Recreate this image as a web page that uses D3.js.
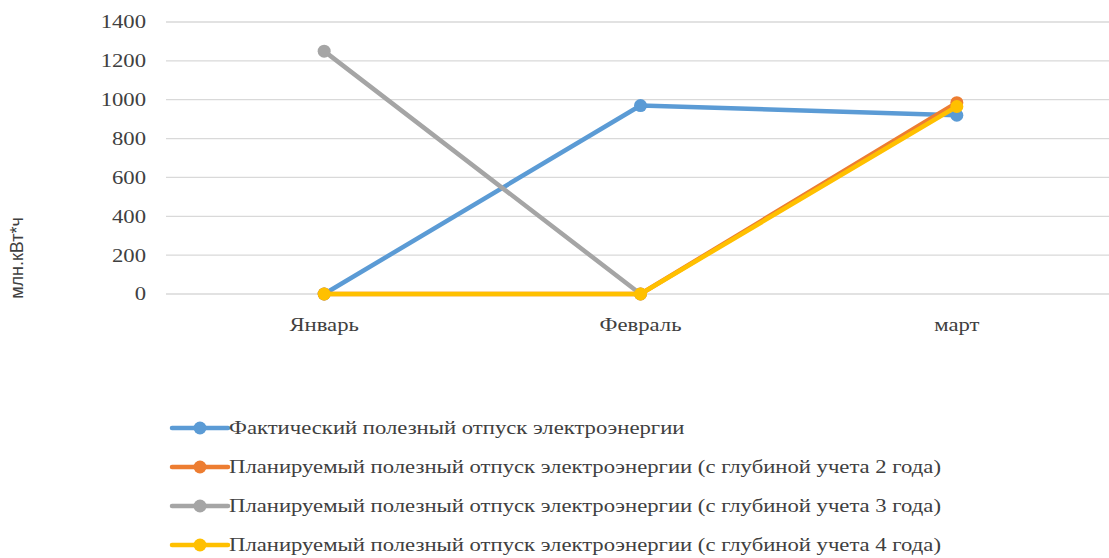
<!DOCTYPE html>
<html>
<head>
<meta charset="utf-8">
<script src="https://cdn.jsdelivr.net/npm/d3@7/dist/d3.min.js"></script>
</head>
<body style="margin:0">
<svg id="chart" width="1109" height="558" style="font-family:'Liberation Serif'"></svg>
<script>
// Monthly categories and y-axis ticks
const months = ["Январь", "Февраль", "март"];
const yTicks = [0, 200, 400, 600, 800, 1000, 1200, 1400];

// Series values, млн.кВт*ч
const actual = [0, 970, 920];
const plan2 = [0, 0, 985];
const plan3 = [1250, 0, null];
const plan4 = [0, 0, 965];

const seriesNames = [
  "Фактический полезный отпуск электроэнергии",
  "Планируемый полезный отпуск электроэнергии (с глубиной учета 2 года)",
  "Планируемый полезный отпуск электроэнергии (с глубиной учета 3 года)",
  "Планируемый полезный отпуск электроэнергии (с глубиной учета 4 года)"
];
const seriesColors = ["#5B9BD5", "#ED7D31", "#A5A5A5", "#FFC000"];

const series = [actual, plan2, plan3, plan4].map((vals, i) => ({
  name: seriesNames[i],
  color: seriesColors[i],
  points: months.map((m, j) => ({ month: m, value: vals[j] })).filter(p => p.value !== null)
}));

const svg = d3.select("#chart");
const W = 1109;
const stretch = 1.26; // wide text proportions used throughout

// Serif text, widened with textLength
function serifText(sel) {
  sel.attr("font-family", "Liberation Serif")
    .style("font-family", '"Liberation Serif"')
    .style("font-size", "18px")
    .attr("fill", "#404040");
  sel.each(function () {
    const w = this.getComputedTextLength();
    d3.select(this).attr("textLength", w * stretch).attr("lengthAdjust", "spacingAndGlyphs");
  });
}

const x = d3.scaleBand().domain(months).range([166, 1115]);
const y = d3.scaleLinear().domain([0, 1400]).range([294, 22]);
const cx = m => x(m) + x.bandwidth() / 2;

// Horizontal gridlines
svg.append("g")
  .selectAll("line")
  .data(yTicks)
  .join("line")
  .attr("x1", 166).attr("x2", W)
  .attr("y1", d => y(d)).attr("y2", d => y(d))
  .attr("stroke", "#d9d9d9").attr("stroke-width", 1.3);

// Y axis tick labels
const yAxis = d3.axisLeft(y).tickValues(yTicks).tickSize(0).tickPadding(0).tickFormat(d3.format("d"));
const gy = svg.append("g").attr("transform", "translate(146,0)").call(yAxis)
  .attr("font-family", null).attr("font-size", null);
gy.select(".domain").remove();
gy.selectAll("text")
  .attr("x", 0).attr("dy", "0.33em")
  .call(serifText);

// X axis category labels
const xAxis = d3.axisBottom(x).tickSize(0).tickPadding(0);
const gx = svg.append("g").attr("transform", "translate(0,331)").call(xAxis)
  .attr("font-family", null).attr("font-size", null);
gx.select(".domain").remove();
gx.selectAll("text")
  .attr("y", 0).attr("dy", 0)
  .call(serifText);

// Y axis title
svg.append("text")
  .attr("font-family", "Liberation Sans")
  .style("font-family", '"Liberation Sans"')
  .style("font-size", "18px")
  .attr("fill", "#404040")
  .attr("transform", "translate(23,258) rotate(-90)")
  .attr("text-anchor", "middle")
  .text("млн.кВт*ч");

// Lines and markers
const line = d3.line().x(d => cx(d.month)).y(d => y(d.value));
const gs = svg.append("g")
  .selectAll("g")
  .data(series)
  .join("g");

gs.append("path")
  .attr("d", d => line(d.points))
  .attr("fill", "none")
  .attr("stroke", d => d.color)
  .attr("stroke-width", 4.5)
  .attr("stroke-linejoin", "round")
  .attr("stroke-linecap", "round");

gs.selectAll("circle")
  .data(d => d.points.map(p => ({ ...p, color: d.color })))
  .join("circle")
  .attr("cx", d => cx(d.month))
  .attr("cy", d => y(d.value))
  .attr("r", 6.5)
  .attr("fill", d => d.color);

// Legend
const legend = svg.append("g")
  .selectAll("g")
  .data(series)
  .join("g")
  .attr("transform", (d, i) => `translate(172,${428 + i * 39})`);

legend.append("line")
  .attr("x1", 0).attr("x2", 56)
  .attr("y1", 0).attr("y2", 0)
  .attr("stroke", d => d.color)
  .attr("stroke-width", 4.5)
  .attr("stroke-linecap", "round");

legend.append("circle")
  .attr("cx", 28).attr("cy", 0).attr("r", 6.5)
  .attr("fill", d => d.color);

legend.append("text")
  .attr("x", 57).attr("y", 6)
  .text(d => d.name)
  .call(serifText);
</script>
</body>
</html>
